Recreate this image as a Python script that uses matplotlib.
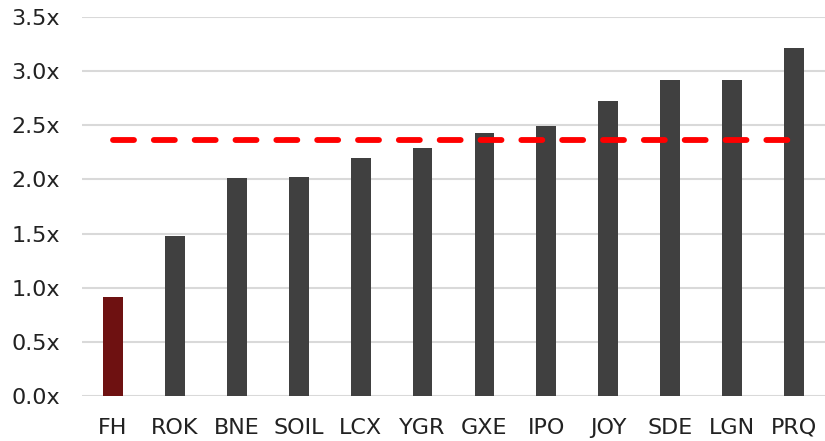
"""
Bar chart of multiples by company, with the peer average as a dashed line.
"""
import matplotlib.pyplot as plt
import numpy as np

# Companies along the x axis.
COMPANIES = ["FH", "ROK", "BNE", "SOIL", "LCX", "YGR", "GXE", "IPO", "JOY", "SDE", "LGN", "PRQ"]

# Multiple for each company.
MULTIPLES = [0.91, 1.48, 2.01, 2.02, 2.20, 2.29, 2.43, 2.49, 2.72, 2.92, 2.92, 3.21]

# Peer average multiple.
AVERAGE = 2.36

Y_TICKS = [0.0, 0.5, 1.0, 1.5, 2.0, 2.5, 3.0, 3.5]

plt.rcParams["font.family"] = ["DejaVu Sans"]

fig = plt.figure(figsize=(8.25, 4.41), dpi=100)
ax = fig.add_axes([82 / 825, 1 - 396 / 441, 1 - 82 / 825, (396 - 17) / 441])

x = np.arange(len(COMPANIES))
colors = ["#6e1111"] + ["#404040"] * (len(COMPANIES) - 1)
ax.bar(x, MULTIPLES, width=0.32, color=colors, zorder=3)
ax.plot(x, [AVERAGE] * len(x), color="#ff0000", lw=4.2, dashes=(3.6, 3.4),
        dash_capstyle="round", zorder=4)

ax.set_xlim(-0.5, len(COMPANIES) - 0.5)
ax.set_ylim(0, 3.5)
ax.set_yticks(Y_TICKS)
ax.set_yticklabels([f"{t:.1f}x" for t in Y_TICKS])
ax.set_xticks(x)
ax.set_xticklabels(COMPANIES)
ax.grid(axis="y", color="#d9d9d9", lw=1.5, zorder=0)
ax.tick_params(length=0, labelsize=16, colors="#222222")
ax.tick_params(axis="y", pad=16)
ax.tick_params(axis="x", pad=15.5)
for spine in ax.spines.values():
    spine.set_visible(False)

fig.savefig("out.png", dpi=100)
plt.close(fig)
